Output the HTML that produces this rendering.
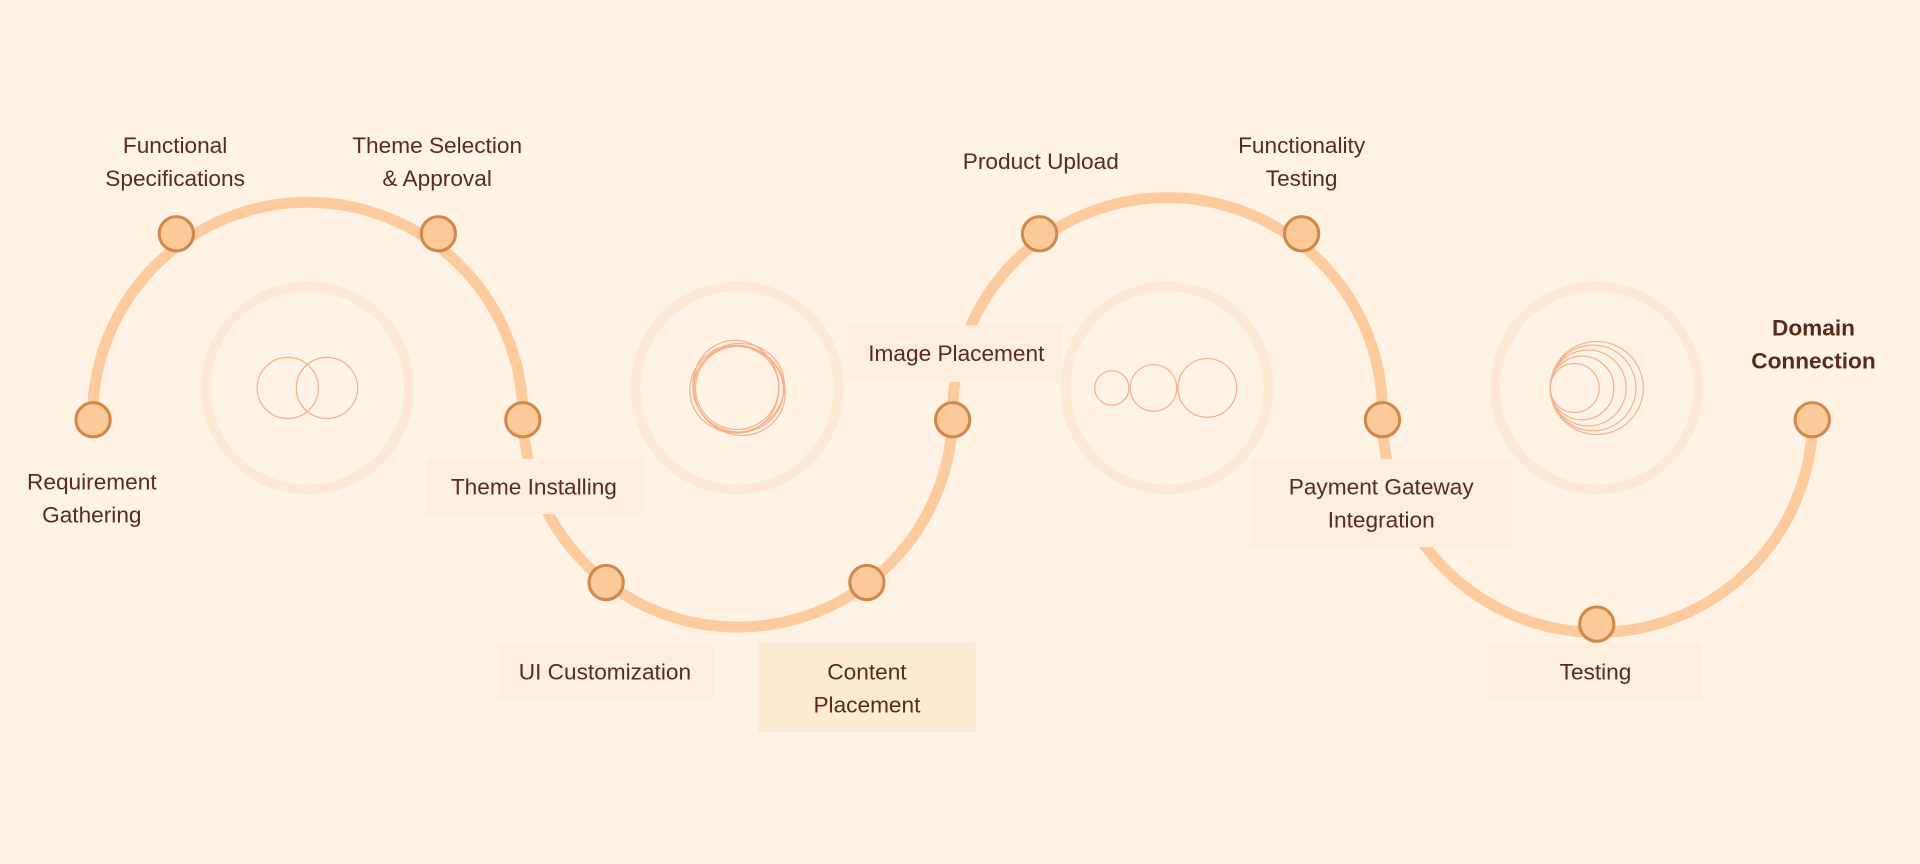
<!DOCTYPE html>
<html><head><meta charset="utf-8"><style>
html,body{margin:0;padding:0;background:#fff3e6;}
svg{display:block;}
text{font-family:"Liberation Sans",sans-serif;font-size:18.5px;fill:#5a2a1a;text-anchor:middle;dominant-baseline:central;}
</style></head><body>
<svg width="1920" height="864" viewBox="0 0 1568 706" preserveAspectRatio="none">
<rect width="1568" height="706" fill="#fff3e6"/>
<!-- decorative rings -->
<g fill="none" stroke="#fee8d6" stroke-width="8">
<circle cx="251" cy="317" r="83"/><circle cx="602" cy="317" r="83"/>
<circle cx="953" cy="317" r="83"/><circle cx="1304" cy="317" r="83"/>
</g>
<g fill="none" stroke="#f7b08a" stroke-width="1">
<circle cx="235" cy="317" r="25"/><circle cx="267" cy="317" r="25"/>
<circle cx="602" cy="317" r="34"/><ellipse cx="603" cy="318" rx="37" ry="35" transform="rotate(15 603 318)"/>
<ellipse cx="601" cy="316" rx="35" ry="38" transform="rotate(-10 601 316)"/><ellipse cx="604" cy="319" rx="38" ry="36" transform="rotate(40 604 319)"/>
<ellipse cx="602" cy="317" rx="36" ry="39" transform="rotate(70 602 317)"/>
<circle cx="908" cy="317" r="14"/><circle cx="942" cy="317" r="19"/><circle cx="986" cy="317" r="24"/>
<circle cx="1286" cy="317" r="20"/><circle cx="1292" cy="317" r="26"/><circle cx="1297" cy="317" r="31"/>
<circle cx="1301" cy="317" r="35"/><circle cx="1304" cy="317" r="38"/>
</g>
<!-- main path -->
<path d="M75.6,345 A175.5,175.5 0 1 1 427,337 A175.5,175.5 0 0 0 778,337 A175.5,175.5 0 0 1 1129,337 A175.5,175.5 0 1 0 1480.4,345" fill="none" stroke="#fdcb9d" stroke-width="9"/>
<!-- label boxes (cover path) -->
<g fill="#fcefe0">
<rect x="348" y="375" width="177" height="45"/>
<rect x="406" y="525" width="177" height="46"/>
<rect x="619" y="525" width="178" height="73" fill="#fdebd6"/>
<rect x="693" y="266" width="174" height="46"/>
<rect x="1022" y="375" width="213" height="72"/>
<rect x="1216" y="525" width="174" height="46"/>
</g>
<!-- nodes -->
<g fill="#fcc998" stroke="#d4874a" stroke-width="2.5">
<circle cx="76" cy="343" r="14"/><circle cx="144" cy="191" r="14"/><circle cx="358" cy="191" r="14"/>
<circle cx="427" cy="343" r="14"/><circle cx="495" cy="476" r="14"/><circle cx="708" cy="476" r="14"/>
<circle cx="778" cy="343" r="14"/><circle cx="849" cy="191" r="14"/><circle cx="1063" cy="191" r="14"/>
<circle cx="1129" cy="343" r="14"/><circle cx="1304" cy="510" r="14"/><circle cx="1480" cy="343" r="14"/>
</g>
<!-- labels -->
<text x="143" y="119">Functional</text><text x="143" y="146">Specifications</text>
<text x="357" y="119">Theme Selection</text><text x="357" y="146">&amp; Approval</text>
<text x="850" y="132">Product Upload</text>
<text x="1063" y="119">Functionality</text><text x="1063" y="146">Testing</text>
<text x="1481" y="268" style="font-weight:bold">Domain</text><text x="1481" y="295" style="font-weight:bold">Connection</text>
<text x="75" y="394">Requirement</text><text x="75" y="421">Gathering</text>
<text x="436" y="398">Theme Installing</text>
<text x="494" y="549">UI Customization</text>
<text x="708" y="549">Content</text><text x="708" y="576">Placement</text>
<text x="781" y="289">Image Placement</text>
<text x="1128" y="398">Payment Gateway</text><text x="1128" y="425">Integration</text>
<text x="1303" y="549">Testing</text>
</svg>
</body></html>
